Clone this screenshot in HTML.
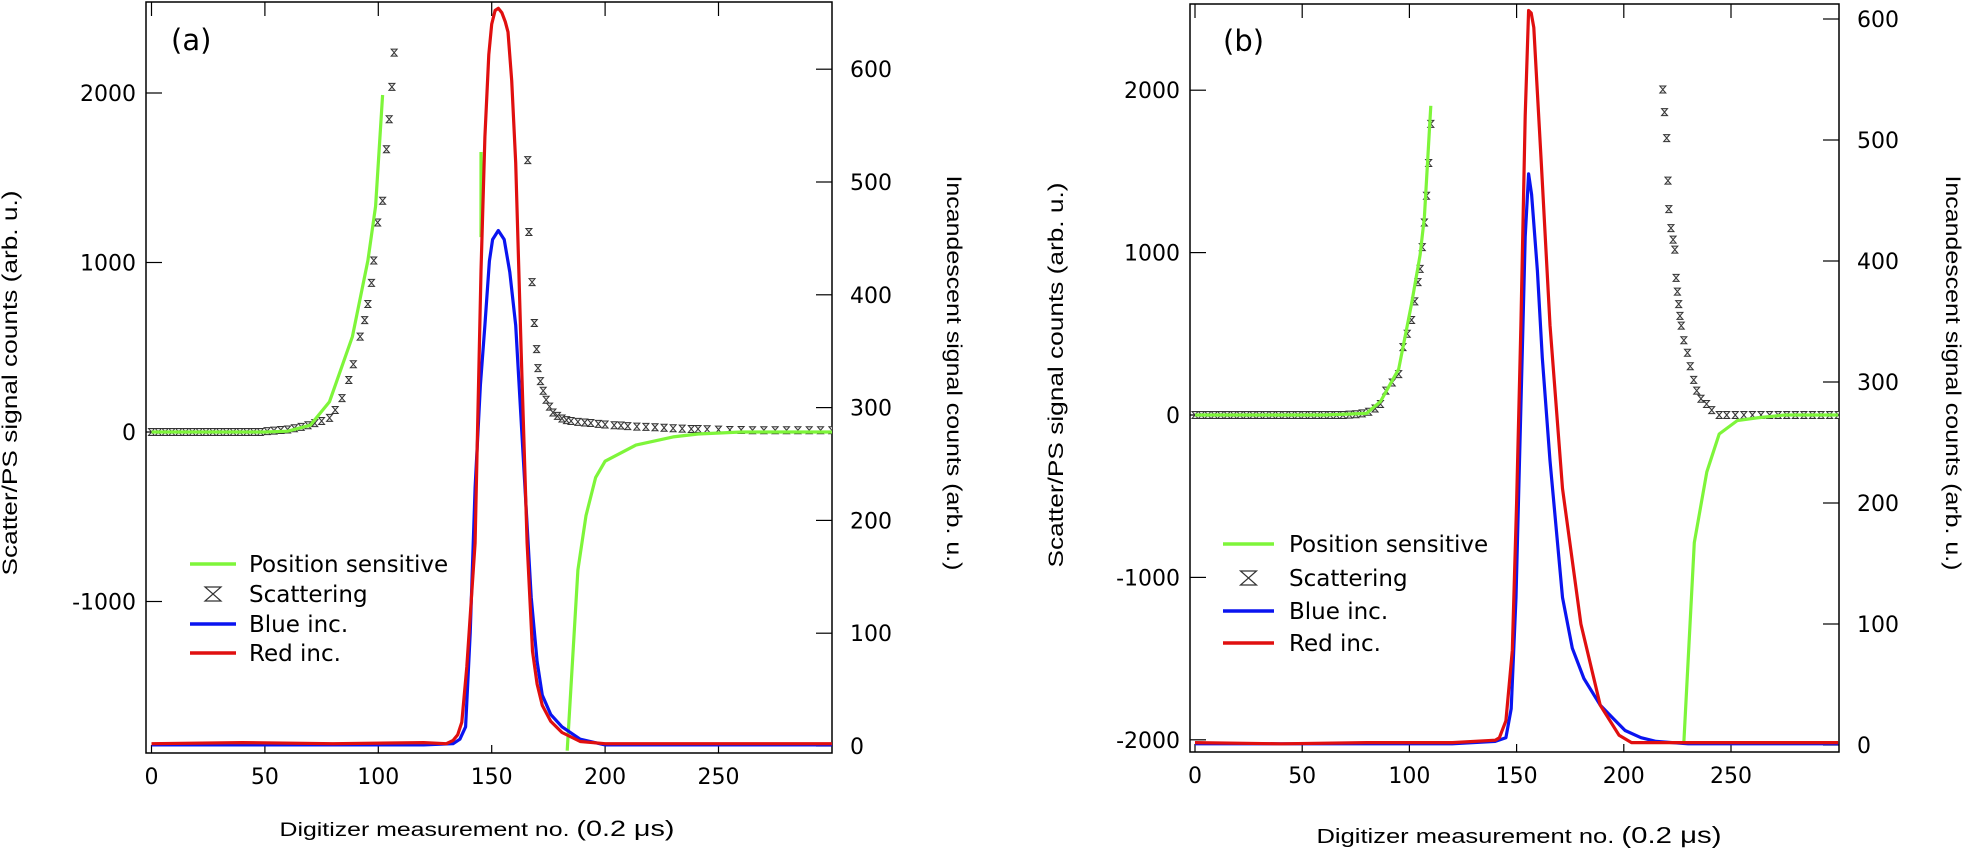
<!DOCTYPE html>
<html><head><meta charset="utf-8"><style>
html,body{margin:0;padding:0;background:#fff;}
svg{display:block;}
text{font-family:"DejaVu Sans","Liberation Sans",sans-serif;fill:#000;}
.ttl{font-family:"Liberation Sans",sans-serif;}
</style></head><body>
<svg id="chart" width="1968" height="851" viewBox="0 0 1968 851" xmlns="http://www.w3.org/2000/svg"></svg>
<script>
// ---- Panel (a) data ----
const aGreen1X = [0,10,20,30,40,50,60,70,78.5,88.6,95.4,98.8,101.9];
const aGreen1Y = [0,0,0,0,0,0,5,40,179,563,1012,1333,1988];
const aGreen2X = [145.3,145.3];
const aGreen2Y = [1652,1150];
const aGreen3X = [183.3,188,191.6,195.8,200,213.6,230,241,260,280,300];
const aGreen3Y = [-1880,-814,-493,-269,-172,-77,-29,-12,0,0,0];
const aScatX = [0,3,6,9,12,15,18,21,24,27,30,33,36,39,42,45,48,51,54,57,60,63,66,69,72,75,78.5,81,84,87,89,92,94,95.4,97,98,99.7,101.9,103.6,104.8,106,107,
  165.9,166.4,167.8,168.8,169.8,170.4,171.5,172.7,174,175.5,177,179,181,183,185,188,191,193.7,197,200,204,207,210,214,218,222,226,230,234,238,241,245,250,255,260,265,270,275,280,285,290,295,300];
const aScatY = [0,0,0,0,0,0,0,0,0,0,0,0,0,0,0,0,0,5,8,12,15,22,30,40,52,65,83,130,200,307,400,563,660,755,880,1012,1236,1364,1668,1845,2036,2238,
  1604,1180,884,643,489,377,300,243,190,150,115,95,80,70,65,60,56,53,48,44,40,38,35,32,30,28,25,22,20,18,18,16,14,12,12,10,10,10,10,10,10,10,10];
const aRedX = [0,40,80,120,130,133,135,136.8,139,142.7,145.3,147,148.7,150,151.5,152.9,154.5,156,157.2,158.8,160.6,163,165.6,168,170,172.3,176,181,189,200,240,300];
const aRedY = [2,3,2,3,2,5,10,21,70,180,421,540,613,640,652,654,650,642,633,590,517,349,180,84,55,36,22,12,4,2,2,2];
const aBlueX = [0,40,80,120,133,136,138.5,140.5,142.7,145,147,149,150.4,152.9,155.5,158,160.6,164,167.4,170,172.3,176,181,189,200,240,300];
const aBlueY = [1,1,1,1,2,6,17,100,229,320,373,430,449,457,449,420,373,252,132,75,45,28,17,6,1,1,1];
// ---- Panel (b) data ----
const bGreen1X = [0,20,40,60,80,86.5,95,101,105,107,110];
const bGreen1Y = [0,0,0,0,10,83,283,683,985,1219,1904];
const bGreen2X = [228,232.9,238.7,244.5,253,262,275,300];
const bGreen2Y = [-2022,-786,-351,-117,-34,-18,0,0];
const bScatX = [0,3,6,9,12,15,18,21,24,27,30,33,36,39,42,45,48,51,54,57,60,63,66,69,72,75,78,81,84,86.5,89,92,95,97,99,101,102.5,104,105,106,107,108,109,110,
  218.2,219,220,220.6,221,222,223,223.8,224.4,225,225.6,226.2,226.8,228,229.7,231,232.6,234,236,238.6,241,244.5,248,252,256,260,264,268,272,276,280,284,288,292,296,300];
const bScatY = [0,0,0,0,0,0,0,0,0,0,0,0,0,0,0,0,0,0,0,0,0,0,0,0,2,5,10,20,40,68,150,200,252,418,500,585,700,818,900,1034,1185,1350,1552,1793,
  2004,1865,1705,1443,1268,1151,1080,1018,844,760,683,610,550,460,383,300,216,150,100,68,30,0,0,0,0,0,0,0,0,0,0,0,0,0,0,0];
const bRedX = [0,40,80,120,140,142,145,148,150,152,154,155.6,156.8,158,159.5,161.5,165.6,171.4,180,189,197.8,203.6,220,260,300];
const bRedY = [2,1,2,2,4,6,20,78,200,347,520,607,605,593,545,481,347,212,100,33,8,2,2,2,2];
const bBlueX = [0,40,80,120,140,145,147.5,149.7,152,154,155.6,157,159.7,162,165.6,171.4,176,181.4,189,195,200.6,208,215,230,260,300];
const bBlueY = [1,1,1,1,3,6,30,122,280,420,472,455,392,320,235,122,80,55,33,22,12,6,3,1,1,1];
// tick labels
const aLeftTicks = [-1000,0,1000,2000];
const aRightTicks = [0,100,200,300,400,500,600];
const bLeftTicks = [-2000,-1000,0,1000,2000];
const bRightTicks = [0,100,200,300,400,500,600];
const xTicks = [0,50,100,150,200,250];
const legendLabels = ["Position sensitive","Scattering","Blue inc.","Red inc."];

const NS = "http://www.w3.org/2000/svg";
const svg = document.getElementById('chart');
function mk(tag, attrs, parent){
  const e = document.createElementNS(NS, tag);
  for (const k in attrs) e.setAttribute(k, attrs[k]);
  (parent||svg).appendChild(e);
  return e;
}
function panel(cfg){
  const g = mk('g', {});
  
  
  const X = v => cfg.x0 + v * cfg.xs;
  const YL = v => cfg.yl0 - v * cfg.yls;
  const YR = v => cfg.yr0 - v * cfg.yrs;
  const fr = mk('rect', {x:cfg.left, y:cfg.top, width:cfg.right-cfg.left, height:cfg.bottom-cfg.top, fill:'none', stroke:'#000', 'stroke-width':1.5}, g);
  
  
  xTicks.forEach(t => {
    mk('line', {x1:X(t), x2:X(t), y1:cfg.top, y2:cfg.top+14, stroke:'#000','stroke-width':1.2}, g);
    mk('line', {x1:X(t), x2:X(t), y1:cfg.bottom, y2:cfg.bottom-8, stroke:'#000','stroke-width':1.2}, g);
    const tx = mk('text', {x:X(t), y:cfg.bottom+31, 'font-size':22, 'text-anchor':'middle'}, g);
    tx.textContent = t;
    
    
  });
  cfg.lt.forEach(t => {
    mk('line', {x1:cfg.left, x2:cfg.left+16, y1:YL(t), y2:YL(t), stroke:'#000','stroke-width':1.2}, g);
    const tx = mk('text', {x:cfg.left-10, y:YL(t)+8, 'font-size':22, 'text-anchor':'end'}, g);
    tx.textContent = t;
    
    
  });
  cfg.rt.forEach(t => {
    mk('line', {x1:cfg.right-16, x2:cfg.right, y1:YR(t), y2:YR(t), stroke:'#000','stroke-width':1.2}, g);
    const tx = mk('text', {x:cfg.right+18, y:YR(t)+8, 'font-size':22, 'text-anchor':'start'}, g);
    tx.textContent = t;
    
    
  });
  const cp = mk('clipPath', {id:'clip'+cfg.id}, g);
  mk('rect', {x:cfg.left, y:cfg.top, width:cfg.right-cfg.left, height:cfg.bottom-cfg.top}, cp);
  const pg = mk('g', {'clip-path':'url(#clip'+cfg.id+')'}, g);
  function line(xs, ys, Y, color, name){
    const d = xs.map((x,i)=>(i?'L':'M')+X(x).toFixed(1)+','+Y(ys[i]).toFixed(1)).join('');
    const p = mk('path', {d:d, fill:'none', stroke:color, 'stroke-width':3.2, 'stroke-linejoin':'round'}, pg);
    
    
  }
  const sg = mk('g', {}, pg);
  
  
  cfg.sx.forEach((x,i)=>{
    const cx = X(x), cy = YL(cfg.sy[i]);
    const m = mk('path', {d:`M${cx-3},${cy-3.5}L${cx+3},${cy-3.5}L${cx-3},${cy+3.5}L${cx+3},${cy+3.5}Z`, fill:'#ddd', stroke:'#333','stroke-width':1}, sg);
    
    
  });
  cfg.greens.forEach((gr,i)=> line(gr[0], gr[1], YL, '#7ef53a', 'position-sensitive-line-'+(i+1)));
  line(cfg.bx, cfg.by, YR, '#0a14f0', 'blue-inc-line');
  line(cfg.rx, cfg.ry, YR, '#e00f0f', 'red-inc-line');
  const pl = mk('text', {x:cfg.labX, y:cfg.labY, 'font-size':29}, g);
  pl.textContent = '(' + cfg.id + ')';
  
  
  const lg = mk('g', {}, g);
  
  
  const cols = ['#7ef53a', null, '#0a14f0', '#e00f0f'];
  legendLabels.forEach((lab,i)=>{
    const y = cfg.legY[i];
    if (cols[i]) mk('line', {x1:cfg.legX1, x2:cfg.legX2, y1:y, y2:y, stroke:cols[i], 'stroke-width':3.5}, lg);
    else { const c=(cfg.legX1+cfg.legX2)/2; mk('path', {d:`M${c-8},${y-7}L${c+8},${y-7}L${c-8},${y+7}L${c+8},${y+7}Z`, fill:'none', stroke:'#333','stroke-width':1.2}, lg); }
    const t = mk('text', {x:cfg.legT, y:y+8, 'font-size':23}, lg);
    t.textContent = lab;
    
    
  });
  const lt = mk('text', {class:'ttl', x:0, y:0, 'font-size':21, 'text-anchor':'middle', textLength:385, lengthAdjust:'spacingAndGlyphs', transform:`translate(${cfg.ltX},${cfg.ltY}) rotate(-90)`}, g);
  lt.textContent = 'Scatter/PS signal counts (arb. u.)';
  
  
  const rtt = mk('text', {class:'ttl', x:0, y:0, 'font-size':21, 'text-anchor':'middle', textLength:395, lengthAdjust:'spacingAndGlyphs', transform:`translate(${cfg.rtX},${cfg.rtY}) rotate(90)`}, g);
  rtt.textContent = 'Incandescent signal counts (arb. u.)';
  
  
  const xt = mk('text', {class:'ttl', x:cfg.xtX, y:cfg.xtY, 'font-size':cfg.xtF, 'text-anchor':'middle', textLength:cfg.xtL, lengthAdjust:'spacingAndGlyphs'}, g);
  xt.innerHTML = 'Digitizer measurement no.  <tspan font-size="'+(cfg.xtF+3)+'">(0.2 μs)</tspan>';
  
  
}
panel({id:'a', left:146, right:832, top:2, bottom:753, x0:151.5, xs:2.268, yl0:432, yls:0.1695, yr0:746, yrs:1.128,
  lt:aLeftTicks, rt:aRightTicks, sx:aScatX, sy:aScatY, greens:[[aGreen1X,aGreen1Y],[aGreen2X,aGreen2Y],[aGreen3X,aGreen3Y]],
  bx:aBlueX, by:aBlueY, rx:aRedX, ry:aRedY, labX:171, labY:50,
  legX1:190, legX2:236, legT:249, legY:[564,594,624,653],
  ltX:17, ltY:383, rtX:947, rtY:373, xtX:477, xtY:836, xtF:19, xtL:395});
panel({id:'b', left:1190, right:1839, top:4, bottom:752, x0:1195, xs:2.144, yl0:415, yls:0.1624, yr0:745, yrs:1.21,
  lt:bLeftTicks, rt:bRightTicks, sx:bScatX, sy:bScatY, greens:[[bGreen1X,bGreen1Y],[bGreen2X,bGreen2Y]],
  bx:bBlueX, by:bBlueY, rx:bRedX, ry:bRedY, labX:1223, labY:51,
  legX1:1223, legX2:1274, legT:1289, legY:[544,578,611,643],
  ltX:1063, ltY:375, rtX:1946, rtY:373, xtX:1519, xtY:843, xtF:20, xtL:405});
</script>
</body></html>
